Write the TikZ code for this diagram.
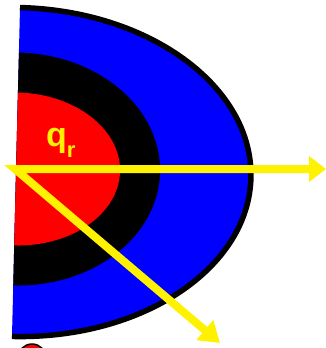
\documentclass[tikz,border=0pt]{standalone}
\usepackage{fontspec}
\setmainfont{Liberation Sans}
\usetikzlibrary{arrows.meta}
\begin{document}
\begin{tikzpicture}[x=1pt,y=-1pt,
  yarrow/.style={draw=yellow, line width=8pt, line join=miter, miter limit=20,
    {Triangle[length=17pt,width=25pt]}-{Triangle[length=20pt,width=25pt]}}]
\useasboundingbox (0,0) rectangle (326,348);
\begin{scope}
  \clip (0,0) rectangle (326,348);
  \draw[fill=red, line width=1.5pt] (32,358) circle[radius=14];
\end{scope}
\begin{scope}[rotate around={-1.4:(16,172)}]
  \fill[blue] (16,7.5) arc[start angle=-90,end angle=90,x radius=235,y radius=164.5] -- cycle;
  \draw[line width=5.5pt] (16,7.5) arc[start angle=-90,end angle=90,x radius=235,y radius=164.5];
  \fill[black] (16,52.5) arc[start angle=-90,end angle=90,x radius=144,y radius=116.5] -- cycle;
  \fill[red] (16,92.5) arc[start angle=-90,end angle=90,x radius=104,y radius=76.5] -- cycle;
\end{scope}
\node[anchor=base west, inner sep=0pt, text=yellow, font=\bfseries] (qr) at (46,146)
  {{\fontsize{34}{34}\selectfont q}\raisebox{-11pt}{\fontsize{22}{22}\selectfont r}};
\coordinate (O) at (15,169);
\coordinate (H) at (326,169);
\coordinate (D) at (220,343);
\draw[yarrow] (H) -- (O) -- (D);
\end{tikzpicture}
\end{document}
